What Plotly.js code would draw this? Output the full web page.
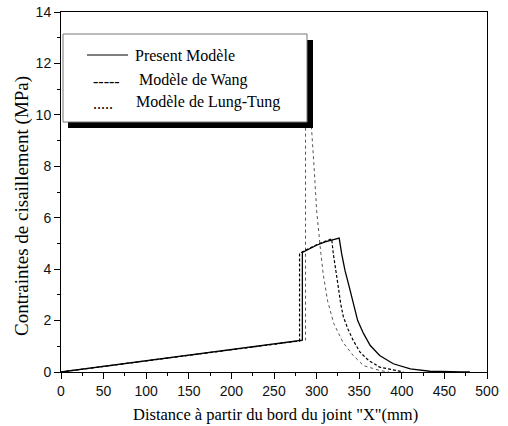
<!DOCTYPE html>
<html>
<head>
<meta charset="utf-8">
<script src="https://cdn.plot.ly/plotly-3.0.1.min.js"></script>
<style>html,body{margin:0;padding:0;background:#fff;}#chart{width:508px;height:426px;}</style>
</head>
<body>
<div id="chart"></div>
<script>
// Series names
var seriesNames = ["Present Modèle", "Modèle de Wang", "Modèle de Lung-Tung"];
var legendMarks = ["", "-----", "....."];
var xTitle = "Distance à partir du bord du joint \"X\"(mm)";
var yTitle = "Contraintes de cisaillement (MPa)";

// Present Modèle (solid)
var presentX = [0, 283.3, 283.3, 290, 300, 310, 318, 326.5, 329.4, 333.3, 338.4, 343.1, 348.2, 355, 363, 374, 390, 410, 433, 470, 480];
var presentY = [0, 1.24, 4.65, 4.77, 4.93, 5.06, 5.14, 5.21, 4.60, 3.95, 3.30, 2.65, 2.00, 1.50, 1.03, 0.64, 0.32, 0.12, 0.03, 0.0, 0.0];

// Modèle de Wang (dashed)
var wangX = [0, 280, 280, 290, 300, 310, 317.7, 319.6, 322.8, 325.5, 328.3, 331.4, 337, 343, 351, 361, 374, 394, 402];
var wangY = [0, 1.21, 4.62, 4.80, 4.95, 5.08, 5.18, 4.60, 3.95, 3.30, 2.65, 2.15, 1.65, 1.23, 0.77, 0.45, 0.19, 0.04, 0];

// Modèle de Lung-Tung (dotted)
var lungX = [0, 287, 287, 288, 291, 294, 297, 300, 303, 305, 308, 313, 320, 331, 343, 355, 374, 385];
var lungY = [0, 1.24, 12.6, 12.6, 11.0, 9.6, 8.0, 6.3, 5.2, 4.6, 3.75, 2.75, 1.9, 1.15, 0.64, 0.25, 0.06, 0];

// Axis ticks
var xTicks = [0, 50, 100, 150, 200, 250, 300, 350, 400, 450, 500];
var yTicks = [0, 2, 4, 6, 8, 10, 12, 14];

var W = 508, H = 426, L = 61, R = 487, T = 12, B = 372;
function px(x) { return (x - L) / (R - L); }
function py(y) { return (B - y) / (B - T); }

var serif = "Liberation Serif";
var sans = "Liberation Sans";

var traces = [
  {x: lungX, y: lungY, mode: "lines", line: {color: "#555", width: 1, dash: "dot"}, name: seriesNames[2]},
  {x: wangX, y: wangY, mode: "lines", line: {color: "#000", width: 1.2, dash: "3px,2px"}, name: seriesNames[1]},
  {x: presentX, y: presentY, mode: "lines", line: {color: "#000", width: 1.3}, name: seriesNames[0]}
];

var shapes = [
  {type: "rect", xref: "paper", yref: "paper", x0: px(68), x1: px(313), y0: py(128), y1: py(40),
   fillcolor: "#000", line: {width: 0}, layer: "above"},
  {type: "rect", xref: "paper", yref: "paper", x0: px(63), x1: px(307), y0: py(122), y1: py(34),
   fillcolor: "#fff", line: {color: "#777", width: 1}, layer: "above"},
  {type: "line", xref: "paper", yref: "paper", x0: px(87), x1: px(128), y0: py(55), y1: py(55),
   line: {color: "#000", width: 1.2}, layer: "above"}
];

var legFont = {family: serif, size: 16, color: "#000"};
var annotations = [
  {xref: "paper", yref: "paper", x: px(133), y: py(55), xanchor: "left", yanchor: "middle", showarrow: false,
   text: seriesNames[0], font: legFont},
  {xref: "paper", yref: "paper", x: px(91), y: py(81), xanchor: "left", yanchor: "middle", showarrow: false,
   text: legendMarks[1], font: legFont},
  {xref: "paper", yref: "paper", x: px(137), y: py(80), xanchor: "left", yanchor: "middle", showarrow: false,
   text: seriesNames[1], font: legFont},
  {xref: "paper", yref: "paper", x: px(91), y: py(103), xanchor: "left", yanchor: "middle", showarrow: false,
   text: legendMarks[2], font: legFont},
  {xref: "paper", yref: "paper", x: px(134), y: py(102), xanchor: "left", yanchor: "middle", showarrow: false,
   text: seriesNames[2], font: legFont},
  {xref: "paper", yref: "paper", x: px(275), y: py(414), xanchor: "center", yanchor: "middle", showarrow: false,
   text: xTitle, font: {family: serif, size: 16.5, color: "#000"}},
  {xref: "paper", yref: "paper", x: px(22), y: py(206), xanchor: "center", yanchor: "middle", showarrow: false,
   textangle: -90, text: yTitle, font: {family: serif, size: 19, color: "#000"}}
];

var layout = {
  width: W, height: H,
  margin: {l: L, r: W - R, t: T, b: H - B, pad: 0},
  paper_bgcolor: "#fff", plot_bgcolor: "#fff",
  showlegend: false,
  font: {family: serif},
  xaxis: {
    range: [0, 500], tickvals: xTicks, ticktext: xTicks.map(String),
    showgrid: false, zeroline: false, showline: true, linecolor: "#000", linewidth: 1, mirror: true,
    ticks: "outside", ticklen: 6, tickwidth: 1, tickcolor: "#000",
    minor: {dtick: 25, tick0: 0, ticks: "outside", ticklen: 3, tickwidth: 1, tickcolor: "#000", showgrid: false},
    tickfont: {family: sans, size: 14, color: "#111"}
  },
  yaxis: {
    range: [0, 14], tickvals: yTicks, ticktext: yTicks.map(String),
    showgrid: false, zeroline: false, showline: true, linecolor: "#000", linewidth: 1, mirror: true,
    ticks: "outside", ticklen: 6, tickwidth: 1, tickcolor: "#000",
    minor: {dtick: 1, tick0: 0, ticks: "outside", ticklen: 3, tickwidth: 1, tickcolor: "#000", showgrid: false},
    tickfont: {family: sans, size: 14, color: "#111"}
  },
  shapes: shapes,
  annotations: annotations
};

Plotly.newPlot("chart", traces, layout, {staticPlot: true, displayModeBar: false});
</script>
</body>
</html>
